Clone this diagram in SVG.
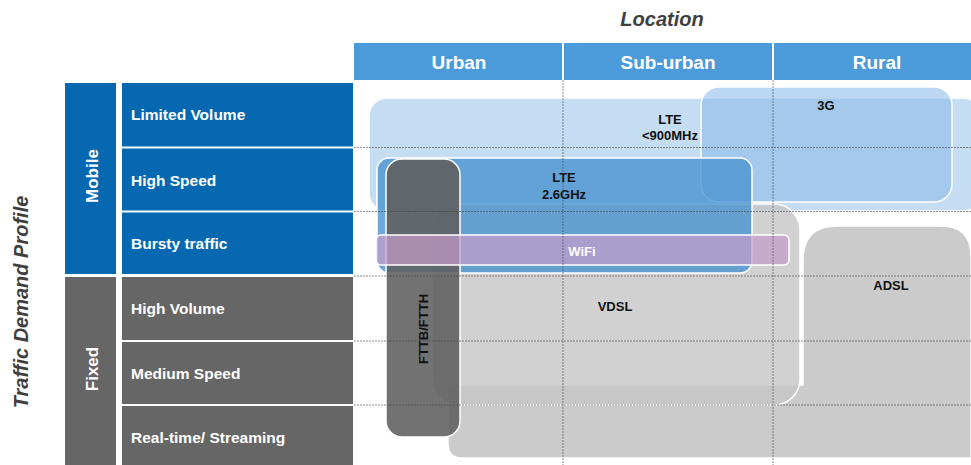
<svg xmlns="http://www.w3.org/2000/svg" width="971" height="465" viewBox="0 0 971 465">
<style>
text{font-family:"Liberation Sans",Arial,sans-serif;font-weight:bold}
.title{font-size:20px;font-style:italic;fill:#3f3f3f}
.hdr{font-size:19px;fill:#fff;text-anchor:middle}
.row{font-size:15.5px;fill:#fff}
.grp{font-size:17px;fill:#fff;text-anchor:middle}
.lbl{font-size:13px;fill:#111;text-anchor:middle}
.sep{stroke:#fff;stroke-width:2}
.grid{stroke:#444;stroke-width:1;stroke-dasharray:2,1;opacity:0.6}
.shape{stroke:#fff;stroke-width:1.5}
</style>
<rect width="971" height="465" fill="#fff"/>
<g id="titles">
<text class="title" x="662" y="26" text-anchor="middle">Location</text>
<text class="title" text-anchor="middle" transform="translate(28,302) rotate(-90)">Traffic Demand Profile</text>
</g>
<g id="header">
<rect x="354" y="43" width="617" height="37" fill="#4b9ad9"/>
<line class="sep" x1="563" y1="43" x2="563" y2="80"/>
<line class="sep" x1="773" y1="43" x2="773" y2="80"/>
<text class="hdr" x="459" y="69">Urban</text>
<text class="hdr" x="668" y="69">Sub-urban</text>
<text class="hdr" x="877" y="69">Rural</text>
</g>
<g id="mobile">
<rect x="65" y="83" width="51" height="191" fill="#0568b0"/>
<text class="grp" transform="translate(98,176) rotate(-90)">Mobile</text>
<rect x="122" y="83" width="231" height="191" fill="#0568b0"/>
<line class="sep" x1="122" y1="147.5" x2="353" y2="147.5"/>
<line class="sep" x1="122" y1="211.5" x2="353" y2="211.5"/>
<text class="row" x="131" y="120">Limited Volume</text>
<text class="row" x="131" y="186">High Speed</text>
<text class="row" x="131" y="249">Bursty traffic</text>
</g>
<g id="fixed">
<rect x="65" y="277" width="51" height="188" fill="#666"/>
<text class="grp" transform="translate(98,369) rotate(-90)">Fixed</text>
<rect x="122" y="277" width="231" height="188" fill="#666"/>
<line class="sep" x1="122" y1="341" x2="353" y2="341"/>
<line class="sep" x1="122" y1="405" x2="353" y2="405"/>
<text class="row" x="131" y="314">High Volume</text>
<text class="row" x="131" y="379">Medium Speed</text>
<text class="row" x="131" y="443">Real-time/ Streaming</text>
</g>
<g id="lte900">
<rect class="shape" x="369" y="98" width="612" height="113" rx="18" fill="#a9cdee" fill-opacity="0.68"/>
<text class="lbl" x="670" y="124">LTE</text>
<text class="lbl" x="670" y="140">&lt;900MHz</text>
</g>
<g id="g3">
<rect class="shape" x="701" y="87" width="251" height="115" rx="18" fill="#8fbde8" fill-opacity="0.6"/>
<text class="lbl" x="826" y="110">3G</text>
</g>
<g id="adsl">
<path class="shape" d="M803,260 Q803,226 837,226 L941,226 Q971,226 971,256 L971,458 L462,458 Q448,458 448,444 L448,385 L803,385 Z" fill="#cbcbcb"/>
<text class="lbl" x="891" y="290">ADSL</text>
</g>
<g id="vdsl">
<rect class="shape" x="432" y="204" width="368" height="201" rx="26" fill="#c6c6c6" fill-opacity="0.8"/>
<text class="lbl" x="615" y="311">VDSL</text>
</g>
<g id="lte26">
<rect class="shape" x="377" y="158" width="375" height="115" rx="12" fill="#4a94d0" fill-opacity="0.8"/>
<text class="lbl" x="564" y="182">LTE</text>
<text class="lbl" x="564" y="199">2.6GHz</text>
</g>
<g id="fttb">
<rect class="shape" x="386" y="159" width="74" height="278" rx="16" fill="#5e5e5e" fill-opacity="0.88"/>
<text class="lbl" transform="translate(428,329) rotate(-90)">FTTB/FTTH</text>
</g>
<g id="wifi">
<rect class="shape" x="376" y="235" width="413" height="30" rx="5" fill="#c59ccb" fill-opacity="0.72"/>
<text class="lbl" x="582" y="256" style="fill:#fff">WiFi</text>
</g>
<g id="connectors">
<line class="grid" x1="354" y1="147.5" x2="971" y2="147.5"/>
<line class="grid" x1="354" y1="211.5" x2="971" y2="211.5"/>
<line class="grid" x1="354" y1="276" x2="971" y2="276"/>
<line class="grid" x1="354" y1="341" x2="971" y2="341"/>
<line class="grid" x1="354" y1="405" x2="971" y2="405"/>
<line class="grid" x1="563" y1="80" x2="563" y2="465"/>
<line class="grid" x1="773" y1="80" x2="773" y2="465"/>
</g>
</svg>
